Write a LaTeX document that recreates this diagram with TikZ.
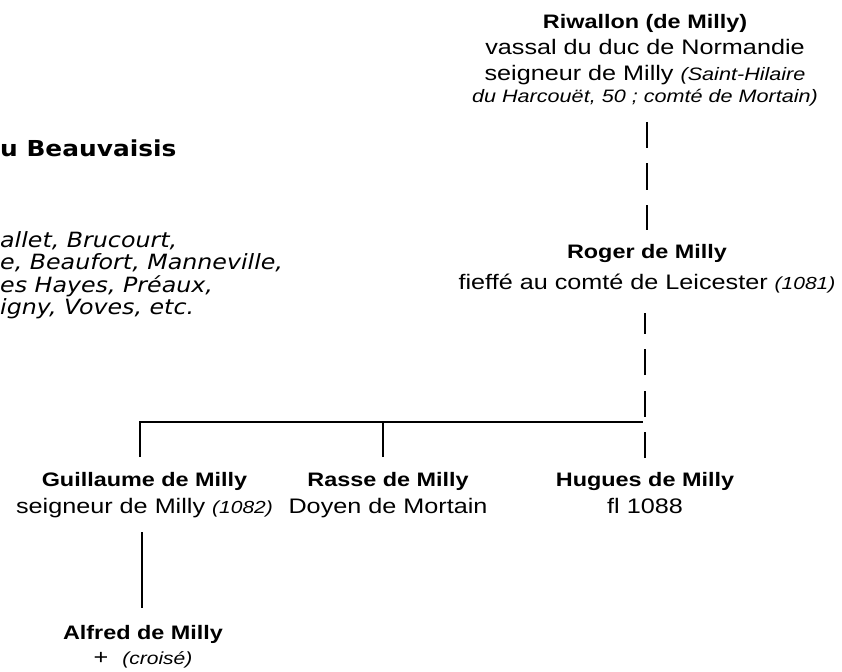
\documentclass[tikz,border=0pt]{standalone}
\usepackage{fontspec}
\setmainfont{Liberation Sans}[FakeStretch=1.2]
\newfontfamily\dvs{DejaVu Sans}[FakeStretch=1.13]
\newcommand{\pnm}[1]{{\fontsize{19.5}{26}\selectfont\bfseries #1}}
\newcommand{\pit}[1]{{\fontsize{17.5}{26}\selectfont\itshape #1}}
\tikzset{
  person/.style={align=center, inner sep=0pt, outer sep=0pt, anchor=base,
    font=\fontsize{21}{26}\selectfont},
  solidlink/.style={line width=2.6pt},
  dashlink/.style={line width=2.6pt, dash pattern=on 26pt off 15.5pt},
}
\begin{document}
\begin{tikzpicture}[x=1pt,y=-1pt]
\useasboundingbox (0,0) rectangle (842,671);
% left partial texts
\node[anchor=base west, inner sep=0pt, font=\dvs\bfseries\fontsize{22}{26}\selectfont] (beauv) at (0,157) {u Beauvaisis};
\node[anchor=base west, inner sep=0pt, align=left, font=\dvs\itshape\fontsize{21}{22.5}\selectfont] (fiefs) at (0,314.5)
  {allet, Brucourt,\\e, Beaufort, Manneville,\\es Hayes, Préaux,\\igny, Voves, etc.};
% persons (base anchor = baseline of last line)
\node[person] (riw) at (645,103) {\pnm{Riwallon (de Milly)}\\vassal du duc de Normandie\\seigneur de Milly \pit{\fontsize{18}{26}\selectfont(Saint-Hilaire}\\[-4pt]\pit{\fontsize{18}{26}\selectfont du Harcouët, 50 ; comté de Mortain)}};
\node[person] (rog) at (647,289) {\pnm{Roger de Milly}\\[5pt]fieffé au comté de Leicester \pit{(1081)}};
\node[person] (gui) at (144.5,513) {\pnm{Guillaume de Milly}\\[1pt]seigneur de Milly \pit{(1082)}};
\node[person] (ras) at (388,513) {\pnm{Rasse de Milly}\\[1pt]Doyen de Mortain};
\node[person] (hug) at (645,513) {\pnm{Hugues de Milly}\\[1pt]fl 1088};
\node[person] (alf) at (143,664) {\pnm{Alfred de Milly}\\[-1pt]+ \ \pit{(croisé)}};
% connector ends
\coordinate (riw-out) at (647,122);
\coordinate (rog-in) at (647,230);
\coordinate (rog-out) at (645,313);
\coordinate (hug-in) at (645,458);
\coordinate (sib) at (643,422);
\coordinate (gui-in) at (140,457);
\coordinate (ras-in) at (383,457);
\coordinate (gui-out) at (142,532);
\coordinate (alf-in) at (142,608);
% connectors
\draw[dashlink] (riw-out) -- (rog-in);
\draw[dashlink] (hug-in) -- (rog-out);
\draw[solidlink] (gui-in) |- (sib);
\draw[solidlink] (ras-in) -- (ras-in |- sib);
\draw[solidlink] (gui-out) -- (alf-in);
\end{tikzpicture}
\end{document}
